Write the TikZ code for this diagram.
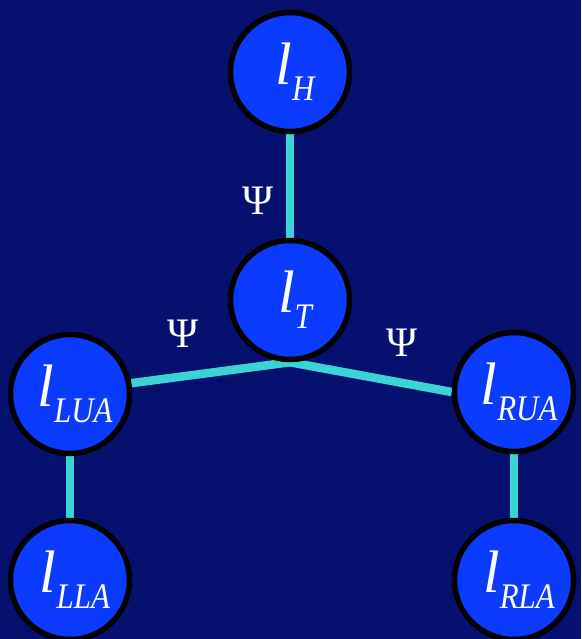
\documentclass[tikz,border=0pt]{standalone}
\usepackage{fontspec}
\setmainfont{Liberation Serif}
\usetikzlibrary{backgrounds}
\pgfdeclarelayer{edges}
\pgfsetlayers{background,edges,main}
\definecolor{bgnavy}{HTML}{05106F}
\definecolor{ballblue}{HTML}{0B3BFF}
\definecolor{linkcyan}{HTML}{3AD4D4}
\newcommand{\limb}[1]{\itshape{\fontsize{60}{60}\selectfont l}\raisebox{-16pt}{\fontsize{36}{36}\selectfont\scalebox{0.86}[1]{#1}}}
\tikzset{
  part/.style={circle, draw=black, line width=5.5pt, fill=ballblue, minimum size=119pt, inner sep=0pt, text=white},
  link/.style={draw=linkcyan, line width=8.5pt},
  psi/.style={text=white, font=\fontsize{42}{42}\selectfont, inner sep=0pt}
}
\begin{document}
\begin{tikzpicture}[x=1pt,y=-1pt]
\begin{pgfonlayer}{background}
\fill[bgnavy] (0,0) rectangle (581,639);
\end{pgfonlayer}
\useasboundingbox (0,0) rectangle (581,639);
\node[part] (H) at (290,72) {\hspace{10pt}\limb{H}};
\node[part] (T) at (290,300) {\hspace{10pt}\limb{T}};
\node[part] (LUA) at (70,394) {\hspace{10pt}\limb{LUA}};
\node[part] (RUA) at (514,392) {\hspace{10pt}\limb{RUA}};
\node[part] (LLA) at (70,580) {\hspace{10pt}\limb{LLA}};
\node[part] (RLA) at (514,580) {\hspace{10pt}\limb{RLA}};
\begin{pgfonlayer}{edges}
\draw[link] (H) -- (T);
\draw[link] (T.south) -- (LUA.10);
\draw[link] (T.south) -- (RUA.west);
\draw[link] (LUA) -- (LLA);
\draw[link] (RUA) -- (RLA);
\end{pgfonlayer}
\node[psi] (p1) at (257.5,201) {Ψ};
\node[psi] (p2) at (183,334) {Ψ};
\node[psi] (p3) at (402,343) {Ψ};
\end{tikzpicture}
\end{document}
